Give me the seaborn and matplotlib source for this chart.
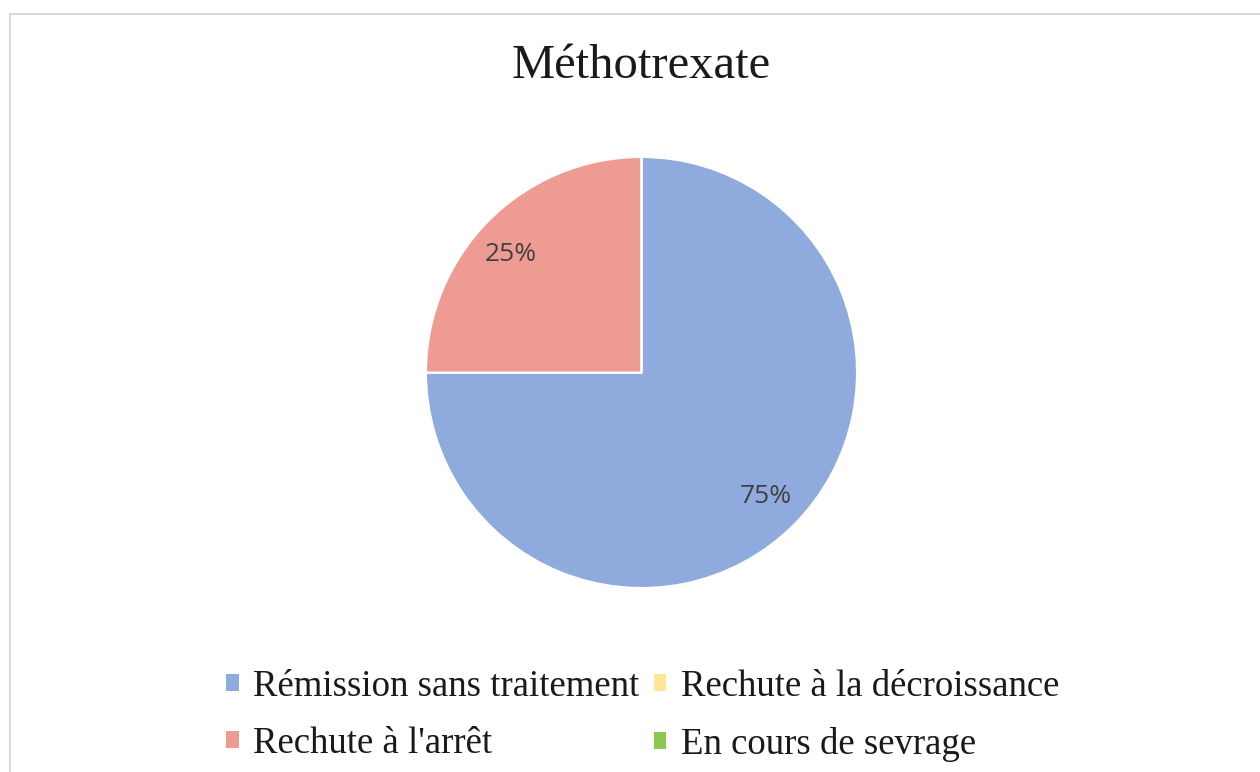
import matplotlib
matplotlib.use("Agg")
import matplotlib.pyplot as plt
import seaborn as sns
from matplotlib.patches import Patch, Rectangle

# data
categories = ["Rémission sans traitement", "Rechute à la décroissance",
              "Rechute à l'arrêt", "En cours de sevrage"]
values = [75, 0, 25, 0]
colors = ["#8FAADC", "#FFE699", "#EE9C93", "#8DC651"]
title = "Méthotrexate"

sns.set_theme(style="white")
plt.rcParams['font.family'] = ['Liberation Serif', 'DejaVu Serif']

W, H = 1260, 772
fig = plt.figure(figsize=(W / 100, H / 100), dpi=100)
fig.patch.set_facecolor("white")

# light grey chart border (cut at right/bottom like the screenshot)
fig.add_artist(Rectangle((10 / W, -0.05), 1.1, 1 - 14 / H + 0.05,
                         transform=fig.transFigure, fill=False,
                         edgecolor="#D9D9D9", lw=1.5))

# pie axes: center (641.5, 372.5) px, radius 215.5 px
cx, cy, r = 641.5, H - 372.5, 215.5
side = 2 * r * 1.25
ax = fig.add_axes([(cx - side / 2) / W, (cy - side / 2) / H, side / W, side / H])


def fmt(p):
    return f"{p:.0f}%" if p > 0.5 else ""


wedges, texts, autotexts = ax.pie(
    values, colors=colors, startangle=90, counterclock=False,
    autopct=fmt, pctdistance=0.815,
    wedgeprops=dict(edgecolor="white", linewidth=1.5),
    textprops=dict(color="#404040", fontsize=19, family="Open Sans"))
ax.set_xlim(-1.25, 1.25)
ax.set_ylim(-1.25, 1.25)
ax.set_aspect("equal")

# nudge the small-slice label a bit, as the original does
x, y = autotexts[2].get_position()
autotexts[2].set_position((x - 0.03, y - 0.03))

fig.text(641 / W, 1 - 78 / H, title, ha="center", va="baseline",
         fontsize=35, color="#1a1a1a")

# legend (row-major like Excel -> reorder for matplotlib column fill)
handles = [Patch(facecolor=c, edgecolor="none") for c in colors]
order = [0, 2, 1, 3]
leg = fig.legend([handles[i] for i in order], [categories[i] for i in order],
                 ncol=2, loc="center", bbox_to_anchor=(643 / W, 1 - 715.5 / H),
                 frameon=False, fontsize=26.5, handlelength=0.33,
                 handleheight=0.33, handletextpad=0.4, columnspacing=0.4,
                 labelspacing=0.62, borderaxespad=0)
for t in leg.get_texts():
    t.set_color("#1a1a1a")

fig.savefig("out.png", dpi=100, facecolor="white")
